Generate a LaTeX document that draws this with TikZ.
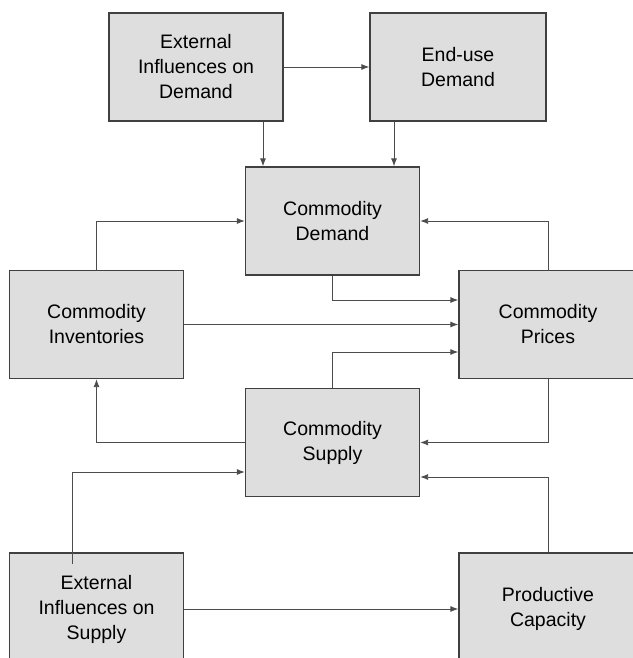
\documentclass[tikz,border=0pt]{standalone}
\usepackage{fontspec}
\setmainfont{Liberation Sans}
\usetikzlibrary{arrows.meta}
\tikzset{
	blockbox/.style={draw=black!75, line width=1.3pt, fill=black!13, minimum width=174pt, minimum height=108pt, align=center, font=\fontsize{19.5}{25}\selectfont, inner sep=0pt},
	arr/.style={draw=black!70, line width=0.9pt, -{Latex[length=8pt,width=6pt]}}
}

\begin{document}
\begin{tikzpicture}[x=1pt, y=-1pt]
		%%%%% START %%%%%
		\useasboundingbox (0, 0) rectangle (632, 658);
		
		\node[blockbox] (extdem) at (196, 67) {External\\Influences on\\Demand};
		\node[blockbox, minimum width=176pt] (enduse) at (458, 67) {End-use\\Demand};
		\node[blockbox] (comdem) at (332.5, 221) {Commodity\\Demand};
		\node[blockbox] (invent) at (96.5, 324.5) {Commodity\\Inventories};
		\node[blockbox, minimum width=178pt] (prices) at (548, 324.5) {Commodity\\Prices};
		\node[blockbox] (comsup) at (332.5, 442.5) {Commodity\\Supply};
		\node[blockbox, minimum height=112pt] (extsup) at (96.5, 609) {External\\Influences on\\Supply};
		\node[blockbox, minimum width=178pt, minimum height=112pt] (prodcap) at (548, 609) {Productive\\Capacity};
		
		\draw[arr] (extdem.east) -- (enduse.west);
		\draw[arr] ([xshift=67pt]extdem.south) -- ([xshift=67pt]extdem.south |- comdem.north);
		\draw[arr] ([xshift=-64pt]enduse.south) -- ([xshift=-64pt]enduse.south |- comdem.north);
		
		\draw[arr] (invent.north) |- (comdem.west);
		\draw[arr] (prices.north) |- (comdem.east);
		\draw[arr] (comdem.south) |- ([yshift=24.5pt]prices.west);
		\draw[arr] (invent.east) -- (prices.west);
		\draw[arr] (comsup.north) |- ([yshift=-27.5pt]prices.west);
		
		\draw[arr] (prices.south) |- (comsup.east);
		\draw[arr] (comsup.west) -| (invent.south);
		\draw[arr] ([xshift=-24.5pt,yshift=-12pt]extsup.north) |- ([yshift=-29.5pt]comsup.west);
		\draw[arr] (prodcap.north) |- ([yshift=-34.5pt]comsup.east);
		\draw[arr] (extsup.east) -- (prodcap.west);
		%%%%% END %%%%%
	\end{tikzpicture}
\end{document}
